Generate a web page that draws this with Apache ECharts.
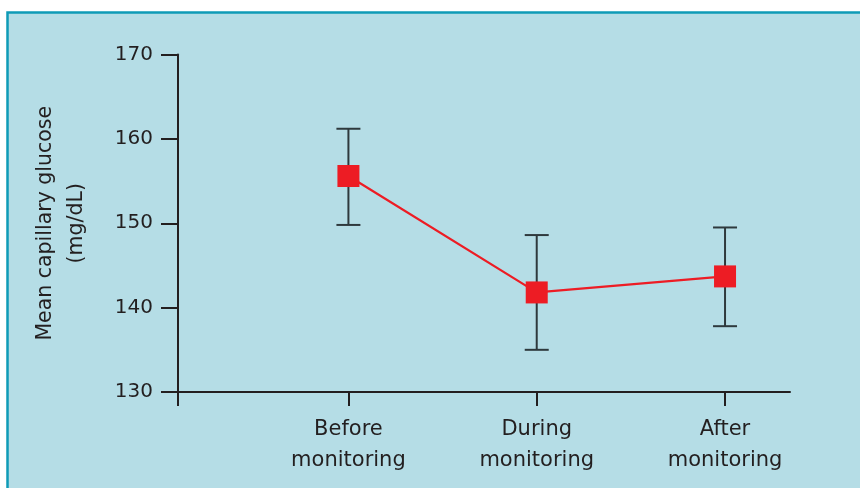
<!DOCTYPE html>
<html>
<head>
<meta charset="utf-8">
<script src="https://cdn.jsdelivr.net/npm/echarts@6/dist/echarts.min.js"></script>
<style>
  html, body { margin: 0; padding: 0; background: #ffffff; }
  #chart { width: 860px; height: 488px; }
</style>
</head>
<body>
<div id="chart"></div>
<script>
// Study phases and mean capillary glucose (mg/dL) with error-bar limits
const categories = ['Before\nmonitoring', 'During\nmonitoring', 'After\nmonitoring'];
const positions = [1, 2, 3];
const means = [155.6, 141.8, 143.7];
const upper = [161.2, 148.6, 149.5];
const lower = [149.8, 135.0, 137.8];
const yTicks = { min: 130, max: 170, interval: 10 };

const FONT = "'DejaVu Sans', Verdana, sans-serif";
const INK = '#231f20';

const chart = echarts.init(document.getElementById('chart'), null, { renderer: 'canvas' });

const meanData = positions.map((p, i) => [p, means[i]]);
const errData = positions.map((p, i) => [p, lower[i], upper[i]]);
const xMin = 0.095;

chart.setOption({
  animation: false,
  backgroundColor: '#ffffff',
  graphic: [{
    type: 'rect',
    silent: true,
    z: -10,
    shape: { x: 7.5, y: 12.5, width: 880, height: 500 },
    style: { fill: '#b5dde6', stroke: '#0e9bb7', lineWidth: 2.5 }
  }],
  grid: { left: 178, right: 70, top: 54.5, bottom: 96 },
  xAxis: {
    type: 'value',
    min: xMin,
    max: 3.345,
    splitLine: { show: false },
    axisLine: { show: true, lineStyle: { color: INK, width: 2 } },
    axisTick: {
      show: true,
      customValues: [xMin].concat(positions),
      length: 14,
      lineStyle: { color: INK, width: 2 }
    },
    axisLabel: {
      customValues: positions,
      formatter: v => categories[Math.round(v) - 1],
      margin: 22,
      color: INK,
      fontFamily: FONT,
      fontSize: 21,
      lineHeight: 31
    }
  },
  yAxis: {
    type: 'value',
    min: yTicks.min,
    max: yTicks.max,
    interval: yTicks.interval,
    name: 'Mean capillary glucose\n(mg/dL)',
    nameLocation: 'middle',
    nameRotate: 90,
    nameGap: 86,
    nameTextStyle: { color: INK, fontFamily: FONT, fontSize: 20.5, lineHeight: 31 },
    splitLine: { show: false },
    axisLine: { show: true, lineStyle: { color: INK, width: 2 } },
    axisTick: { show: true, length: 17, lineStyle: { color: INK, width: 2 } },
    axisLabel: { margin: 25, color: INK, fontFamily: FONT, fontSize: 20 }
  },
  series: [
    {
      type: 'custom',
      name: 'range',
      data: errData,
      z: 2,
      renderItem: (params, api) => {
        const x = api.value(0);
        const lo = api.coord([x, api.value(1)]);
        const hi = api.coord([x, api.value(2)]);
        const half = 12;
        const style = { stroke: '#2e393d', lineWidth: 2 };
        return {
          type: 'group',
          children: [
            { type: 'line', shape: { x1: lo[0], y1: lo[1], x2: hi[0], y2: hi[1] }, style },
            { type: 'line', shape: { x1: hi[0] - half, y1: hi[1], x2: hi[0] + half, y2: hi[1] }, style },
            { type: 'line', shape: { x1: lo[0] - half, y1: lo[1], x2: lo[0] + half, y2: lo[1] }, style }
          ]
        };
      }
    },
    {
      type: 'line',
      name: 'mean',
      data: meanData,
      z: 3,
      symbol: 'rect',
      symbolSize: 22,
      lineStyle: { color: '#ed1c24', width: 2.2 },
      itemStyle: { color: '#ed1c24' }
    }
  ]
});
</script>
</body>
</html>
